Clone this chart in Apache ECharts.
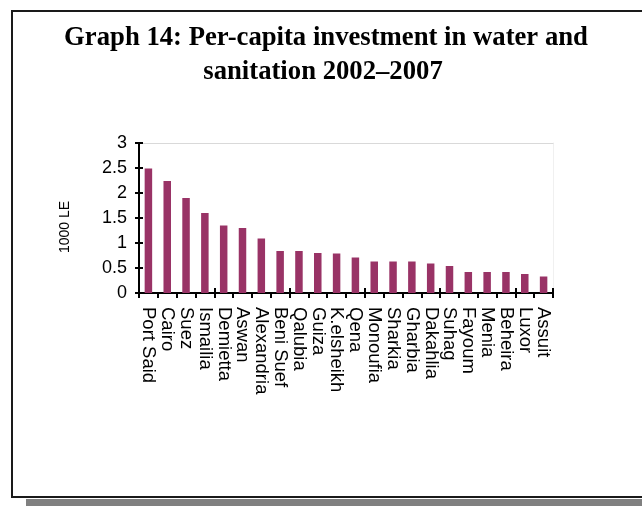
<!DOCTYPE html>
<html>
<head>
<meta charset="utf-8">
<script src="https://cdn.jsdelivr.net/npm/echarts@6/dist/echarts.min.js"></script>
<style>
html,body{margin:0;padding:0;background:#fff;}
#c{width:642px;height:506px;}
</style>
</head>
<body>
<div id="c"></div>
<script>
const titleLines = ['Graph 14: Per-capita investment in water and', 'sanitation 2002\u20132007'];
const yAxisName = '1000 LE';
const governorates = ['Port Said','Cairo','Suez','Ismailia','Demietta','Aswan','Alexandria','Beni Suef','Qalubia','Guiza','K.elsheikh','Qena','Monoufia','Sharkia','Gharbia','Dakahlia','Suhag','Fayoum','Menia','Beheira','Luxor','Assuit'];
const investment = [2.49,2.24,1.9,1.6,1.35,1.3,1.09,0.84,0.84,0.8,0.79,0.71,0.63,0.63,0.63,0.59,0.54,0.42,0.42,0.42,0.38,0.33];
const yTicks = {min:0, max:3, interval:0.5};

const chart = echarts.init(document.getElementById('c'), null, {renderer:'canvas'});
const sans = '"Liberation Sans", Arial, sans-serif';
const serif = '"Liberation Serif", "Times New Roman", serif';

chart.setOption({
  backgroundColor:'#fff',
  animation:false,
  graphic:[
    {type:'rect', z:-10, shape:{x:12, y:11, width:640, height:486}, style:{fill:'#fff', stroke:'#1a1a1a', lineWidth:2}},
    {type:'rect', z:-11, shape:{x:26, y:499, width:620, height:8}, style:{fill:'#808080'}},
    {type:'text', x:326, y:38, style:{text:titleLines[0], font:'bold 26.7px '+serif, fill:'#000', align:'center', verticalAlign:'middle'}},
    {type:'text', x:323, y:72, style:{text:titleLines[1], font:'bold 26.7px '+serif, fill:'#000', align:'center', verticalAlign:'middle'}},
    {type:'text', x:65, y:227, rotation:Math.PI/2, style:{text:yAxisName, font:'14px '+sans, fill:'#000', align:'center', verticalAlign:'middle'}}
  ],
  grid:{left:139, right:89, top:143, bottom:213, containLabel:false},
  xAxis:[
    {type:'category', data:governorates, position:'bottom',
     axisLine:{lineStyle:{color:'#000', width:2}},
     axisTick:{show:true, inside:false, length:5, lineStyle:{color:'#000', width:2}},
     axisLabel:{interval:0, rotate:-90, fontSize:18.5, color:'#000', fontFamily:sans, margin:14},
     splitLine:{show:false}},
    {type:'category', data:governorates, position:'bottom',
     axisLine:{show:false},
     axisTick:{show:true, inside:true, length:5, lineStyle:{color:'#000', width:2}},
     axisLabel:{show:false}, splitLine:{show:false}},
    {type:'category', data:governorates, position:'top',
     axisLine:{show:true, onZero:false, lineStyle:{color:'#d9d9d9', width:1}},
     axisTick:{show:false}, axisLabel:{show:false}, splitLine:{show:false}}
  ],
  yAxis:[
    {type:'value', min:yTicks.min, max:yTicks.max, interval:yTicks.interval, position:'left',
     axisLine:{show:true, lineStyle:{color:'#000', width:2}},
     axisTick:{show:true, inside:false, length:4, lineStyle:{color:'#000', width:2}},
     axisLabel:{fontSize:18, color:'#000', fontFamily:sans, margin:12},
     splitLine:{show:false}},
    {type:'value', min:yTicks.min, max:yTicks.max, interval:yTicks.interval, position:'left',
     axisLine:{show:false},
     axisTick:{show:true, inside:true, length:4, lineStyle:{color:'#000', width:2}},
     axisLabel:{show:false}, splitLine:{show:false}},
    {type:'value', min:yTicks.min, max:yTicks.max, interval:yTicks.interval, position:'right',
     axisLine:{show:true, onZero:false, lineStyle:{color:'#f0f0f0', width:1}},
     axisTick:{show:false}, axisLabel:{show:false}, splitLine:{show:false}}
  ],
  series:[{
    type:'bar', data:investment, xAxisIndex:0, yAxisIndex:0,
    barWidth:7.5, itemStyle:{color:'#993366'}, z:1
  }]
});
</script>
</body>
</html>
